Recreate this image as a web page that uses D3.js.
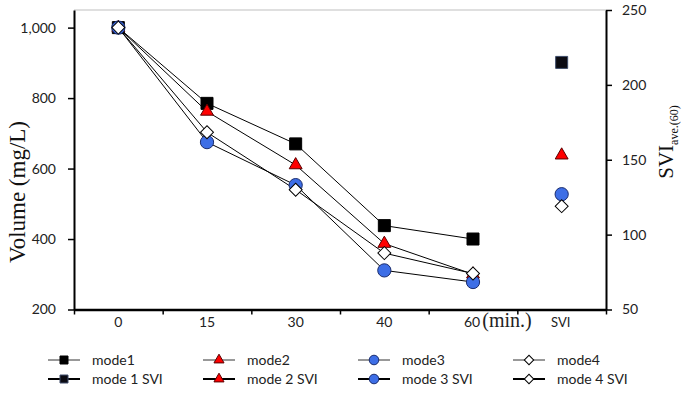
<!DOCTYPE html>
<html><head><meta charset="utf-8">
<script src="https://cdn.jsdelivr.net/npm/d3@7"></script>
<style>
body{margin:0;background:#fff;}
svg{display:block;}
</style></head>
<body><svg id="c" width="685" height="402"></svg>
<script>
// ---- data ----
const categories = ["0","15","30","40","60","SVI"];
const timeCats = ["0","15","30","40","60"];
const mode1 = [1000, 785, 670, 438, 400];
const mode2 = [1000, 762, 610, 387, 300];
const mode3 = [1000, 675, 553, 311, 278];
const mode4 = [1000, 703, 540, 360, 302];
const sviValues = [215, 153, 127, 119];
const seriesNames = ["mode1","mode2","mode3","mode4"];
const sviNames = ["mode 1 SVI","mode 2 SVI","mode 3 SVI","mode 4 SVI"];
const leftTicks = [200,400,600,800,1000];
const rightTicks = [50,100,150,200,250];

// ---- styles ----
const styles = [
  {type:"square", fill:"#000", stroke:"#000", sviFill:"#0b0b12", sviStroke:"#3e4c6a"},
  {type:"triangle", fill:"#ff0000", stroke:"#5a0000", sviFill:"#ff0000", sviStroke:"#5a0000"},
  {type:"circle", fill:"#3d6ee6", stroke:"#1b2d6e", sviFill:"#3d6ee6", sviStroke:"#1b2d6e"},
  {type:"diamond", fill:"#fff", stroke:"#000", sviFill:"#fff", sviStroke:"#000"}
];
const allSeries = [mode1, mode2, mode3, mode4];

const svg = d3.select("#c");
const L = 74, R = 606, T = 10, B = 309.5;

const xBand = d3.scaleBand().domain(categories).range([L, R]).padding(0);
const xBound = d3.scaleLinear().domain([0, categories.length]).range([L, R]);
const yL = d3.scaleLinear().domain([200, 1050]).range([B, T]);
const yR = d3.scaleLinear().domain([50, 250]).range([B, T]);
const cx = c => xBand(c) + xBand.bandwidth()/2;

function symPath(type, big){
  let g;
  if(type==="square") g = d3.symbol(d3.symbolSquare, big?144:64);
  else if(type==="triangle") g = d3.symbol(d3.symbolTriangle, big?72:44);
  else if(type==="circle") g = d3.symbol(d3.symbolCircle, big?138:72);
  else g = d3.symbol(d3.symbolSquare, big?84:44);
  return g();
}
function drawMarker(sel, type, x, y, fill, stroke, big){
  sel.append("path").attr("d", symPath(type, big))
    .attr("transform", `translate(${x},${y})` + (type==="diamond"?" rotate(45)":""))
    .attr("fill", fill).attr("stroke", stroke).attr("stroke-width", 1);
}

// top border (light)
svg.append("line").attr("x1", L).attr("x2", R).attr("y1", T).attr("y2", T)
  .attr("stroke", "#d4d4d4").attr("stroke-width", 1.5);

// left axis
const gL = svg.append("g").attr("transform", `translate(${L},0)`)
  .call(d3.axisLeft(yL).tickValues(leftTicks).tickFormat(d3.format(",")).tickSize(6).tickPadding(12).tickSizeOuter(0));
gL.select(".domain").attr("stroke-width", 2);
gL.selectAll(".tick line").attr("stroke-width", 1.5);
gL.selectAll(".tick text").attr("font-family", "Lato, sans-serif").attr("font-size", 14).attr("fill", "#222");

// right axis
const gR = svg.append("g").attr("transform", `translate(${R},0)`)
  .call(d3.axisRight(yR).tickValues(rightTicks).tickSize(6).tickPadding(10).tickSizeOuter(0));
gR.select(".domain").attr("stroke-width", 2);
gR.selectAll(".tick line").attr("stroke-width", 1.5);
gR.selectAll(".tick text").attr("font-family", "Lato, sans-serif").attr("font-size", 14).attr("fill", "#222");

// bottom axis: boundary ticks
const gB = svg.append("g").attr("transform", `translate(0,${B})`)
  .call(d3.axisBottom(xBound).tickValues(d3.range(categories.length+1)).tickFormat("").tickSize(5).tickSizeOuter(0));
gB.select(".domain").attr("stroke-width", 2.5);
gB.selectAll(".tick line").attr("stroke-width", 1.5);

// bottom labels
const gBL = svg.append("g").attr("transform", `translate(0,${B})`)
  .call(d3.axisBottom(xBand).tickSize(0).tickPadding(0));
gBL.select(".domain").remove();
gBL.selectAll(".tick text").attr("dy", null).attr("y", 17.5)
  .attr("font-family", "Lato, sans-serif").attr("font-size", 14).attr("fill", "#222")
  .each(function(d){
    const t = d3.select(this);
    if(d === "SVI"){ t.attr("font-size", 13).attr("x", -1); }
    if(d === "60"){
      t.attr("text-anchor", "start").attr("x", -9);
      t.append("tspan").attr("dx", 2).attr("font-family", "'Liberation Serif', 'Times New Roman', serif")
        .attr("font-size", 20).text("(min.)");
    }
  });

// lines
const line = d3.line().x((d,i)=>cx(timeCats[i])).y(d=>yL(d));
allSeries.forEach(s=>{
  svg.append("path").attr("d", line(s)).attr("fill", "none")
    .attr("stroke", "#000").attr("stroke-width", 1);
});
// markers
allSeries.forEach((s, k)=>{
  s.forEach((v, i)=>drawMarker(svg, styles[k].type, cx(timeCats[i]), yL(v), styles[k].fill, styles[k].stroke, true));
});
// SVI markers
sviValues.forEach((v, k)=>{
  drawMarker(svg, styles[k].type, cx("SVI"), yR(v), styles[k].sviFill, styles[k].sviStroke, true);
});

// axis titles
svg.append("text").attr("transform", `translate(25,192) rotate(-90)`)
  .attr("text-anchor", "middle").attr("font-family", "'Liberation Serif', 'Times New Roman', serif")
  .attr("font-size", 23).attr("fill", "#111").text("Volume (mg/L)");
const rt = svg.append("text").attr("transform", `translate(673,142) rotate(-90)`)
  .attr("text-anchor", "middle").attr("font-family", "'Liberation Serif', 'Times New Roman', serif")
  .attr("fill", "#111");
rt.append("tspan").attr("font-size", 21).text("SVI");
rt.append("tspan").attr("font-size", 12).attr("dy", 5).text("ave.(60)");

// legend
const leg = svg.append("g");
const rows = [seriesNames, sviNames];
rows.forEach((names, r)=>{
  const y = r===0 ? 360 : 379;
  names.forEach((n, k)=>{
    const x0 = 48 + 155*k;
    leg.append("line").attr("x1", x0).attr("x2", x0+32).attr("y1", y).attr("y2", y)
      .attr("stroke", r===0 ? "#333" : "#000").attr("stroke-width", r===0 ? 1 : 2);
    drawMarker(leg, styles[k].type, x0+16, y,
      r===0 ? styles[k].fill : styles[k].sviFill, r===0 ? styles[k].stroke : styles[k].sviStroke, false);
    leg.append("text").attr("x", x0+44).attr("y", y+5)
      .attr("font-family", "Lato, sans-serif").attr("font-size", 14).attr("fill", "#222").text(n);
  });
});
</script>
</body></html>
